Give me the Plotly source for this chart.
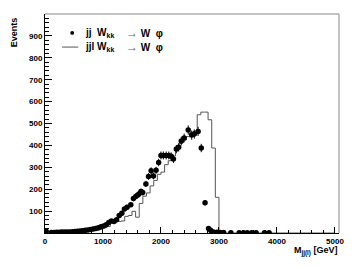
import numpy as np
import plotly.graph_objects as go

# ---- data: points (jj W_kk -> W phi) ----
dot_mass = [20, 110, 155, 200, 245, 290, 335, 380, 425, 470, 515, 560, 605, 650, 695,
            740, 785, 830, 875, 920, 965, 1010, 1055, 1100, 1145, 1190, 1235, 1280, 1325,
            1370, 1415, 1480, 1525, 1565, 1595, 1620, 1655, 1685, 1740, 1785, 1830, 1870,
            1915, 1960, 2000, 2040, 2090, 2135, 2175, 2215, 2265, 2305, 2350, 2400, 2470,
            2530, 2575, 2640, 2695, 2760, 2820, 2855, 2905, 2965, 3020, 3080, 3205, 3350,
            3425, 3490, 3565, 3640, 3785, 3865]
dot_events = [8, 2, 2, 3, 3, 4, 4, 5, 5, 6, 7, 8, 9, 10, 12, 14, 16, 18, 20, 24, 28, 32,
              38, 48, 55, 52, 60, 80, 90, 110, 118, 129, 157, 167, 172, 178, 190, 185, 224,
              258, 284, 260, 286, 322, 354, 354, 354, 354, 350, 338, 383, 391, 420, 434,
              470, 447, 452, 464, 388, 138, 21, 12, 4, 3, 2, 2, 1, 1, 1, 1, 1, 1, 1, 1]
dot_err = [3, 3, 3, 3, 3, 3, 3, 3, 3, 3, 3, 3, 3, 3,
           4, 4, 4, 5, 5, 5, 6, 6, 6,
           7, 7, 7, 8, 9, 9, 10, 11,
           11, 12, 12, 12, 13, 13, 13, 14, 15, 16, 15, 16, 17,
           18, 18, 18, 18, 18, 18, 19, 19, 20, 20, 21, 21, 21, 21,
           19, 12, 5, 4,
           2, 2, 2, 2, 2, 2, 2, 2, 2, 2, 2, 2]

# ---- data: histogram (jjl W_kk -> W phi), 80 bins from 0 to 5000 ----
hist_low, hist_high, hist_nbins = 0, 5000, 80
hist_events = [0, 0, 1, 1, 2, 2, 3, 3, 4, 5, 6, 7, 9, 11, 14, 18,
               24, 30, 50, 52, 53, 55, 76, 80, 99, 72, 135, 168, 183, 215, 240, 268,
               278, 312, 330, 352, 380, 410, 425, 440, 460, 465, 540, 552, 552, 517, 388, 163,
               0, 0, 0, 0, 0, 0, 0, 0, 0, 0, 0, 0, 0, 0, 0, 0,
               0, 0, 0, 0, 0, 0, 0, 0, 0, 0, 0, 0, 0, 0, 0, 0]

x_ticks = [0, 1000, 2000, 3000, 4000, 5000]
y_ticks = [100, 200, 300, 400, 500, 600, 700, 800, 900]

edges = np.linspace(hist_low, hist_high, hist_nbins + 1)
hist_x = list(edges)
hist_y = list(hist_events) + [hist_events[-1]]

FONT = "Liberation Sans, Arial, sans-serif"

fig = go.Figure()
fig.add_trace(go.Scatter(
    x=hist_x, y=hist_y, mode="lines", line=dict(shape="hv", color="#555555", width=1),
    showlegend=False, hoverinfo="skip"))
fig.add_trace(go.Scatter(
    x=dot_mass, y=dot_events, mode="markers",
    marker=dict(symbol="circle", size=5.5, color="black"),
    error_y=dict(type="data", array=dot_err, color="black", thickness=1, width=0),
    error_x=dict(type="constant", value=18, color="black", thickness=1, width=0),
    showlegend=False))

axis_common = dict(showgrid=False, zeroline=False, showline=True, linecolor="black",
                   linewidth=1, ticks="inside", tickcolor="black",
                   tickfont=dict(family=FONT, size=8, color="black", weight="bold"))

fig.update_xaxes(range=[0, 5070], tickvals=x_ticks, ticklen=6,
                 minor=dict(dtick=200, ticklen=3, ticks="inside", tickcolor="black"),
                 **axis_common)
fig.update_yaxes(range=[0, 1000], tickvals=y_ticks, ticklen=7,
                 minor=dict(dtick=20, ticklen=4, ticks="inside", tickcolor="black"),
                 **axis_common)

# frame top & right (gray)
fig.add_shape(type="line", xref="paper", yref="paper", x0=0, x1=1, y0=1, y1=1,
              line=dict(color="#888888", width=1))
fig.add_shape(type="line", xref="paper", yref="paper", x0=1, x1=1, y0=0, y1=1,
              line=dict(color="#888888", width=1))

# legend (drawn manually)
fig.add_shape(type="circle", xref="paper", yref="paper",
              x0=0.086, x1=0.099, y0=0.905, y1=0.922, fillcolor="black", line=dict(width=0))
fig.add_shape(type="line", xref="paper", yref="paper", x0=0.058, x1=0.113, y0=0.849, y1=0.849,
              line=dict(color="#555555", width=1))
leg_font = dict(family=FONT, size=10, color="black")
fig.add_annotation(xref="paper", yref="paper", x=0.129, y=0.913, xanchor="left", yanchor="middle",
                   text="<b>jj  W<sub>kk</sub></b>", showarrow=False, font=leg_font)
fig.add_annotation(xref="paper", yref="paper", x=0.129, y=0.849, xanchor="left", yanchor="middle",
                   text="<b>jjl W<sub>kk</sub></b>", showarrow=False, font=leg_font)
for yy in (0.913, 0.849):
    fig.add_annotation(xref="paper", yref="paper", x=0.268, y=yy, xanchor="left", yanchor="middle",
                       text="<span style='color:#666666;font-size:12px'>→</span> <b>W</b>  <b>φ</b>",
                       showarrow=False, font=leg_font)

# axis titles
fig.add_annotation(xref="paper", yref="paper", x=-0.105, y=0.995, xanchor="center", yanchor="top",
                   text="<b>Events</b>", textangle=-90, showarrow=False,
                   font=dict(family=FONT, size=9, color="black"))
fig.add_annotation(xref="paper", yref="paper", x=1.0, y=-0.08, xanchor="right", yanchor="middle",
                   text="<b>M<sub>jj(l)</sub> [GeV]</b>", showarrow=False,
                   font=dict(family=FONT, size=9, color="black"))

fig.update_layout(width=356, height=267, margin=dict(l=45, r=17, t=14, b=34),
                  paper_bgcolor="white", plot_bgcolor="white", showlegend=False)

fig.write_html("out.html", config={"displayModeBar": False},
               post_script="document.body.style.margin='0';")
